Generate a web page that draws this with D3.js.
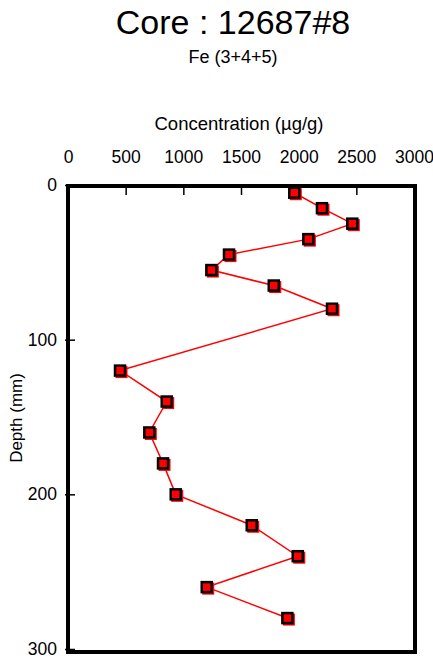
<!DOCTYPE html>
<html>
<head>
<meta charset="utf-8">
<script src="https://cdn.jsdelivr.net/npm/d3@7"></script>
<style>
  html, body { margin: 0; padding: 0; background: #fff; }
  svg { display: block; font-family: "Liberation Sans", Arial, sans-serif; }
</style>
</head>
<body>
<svg id="chart" width="433" height="659"></svg>
<script>
// ---- data ----
const depths = [5, 15, 25, 35, 45, 55, 65, 80, 120, 140, 160, 180, 200, 220, 240, 260, 280];
const concentrations = [1962, 2202, 2465, 2084, 1396, 1243, 1784, 2289, 451, 856, 705, 824, 934, 1593, 1992, 1203, 1902];
const xTicks = [0, 500, 1000, 1500, 2000, 2500, 3000];
const yTicks = [0, 100, 200, 300];
const titleText = "Core : 12687#8";
const subtitleText = "Fe (3+4+5)";
const xLabel = "Concentration (µg/g)";
const yLabel = "Depth (mm)";

(function () {
const svg = d3.select("#chart");
const pl = 68, pr = 414, pt = 185, pb = 649;

const x = d3.scaleLinear().domain([0, 3000]).range([pl, pr]);
const y = d3.scaleLinear().domain([0, 300]).range([pt, pb]);

// titles
svg.append("text").attr("x", 233).attr("y", 34).attr("text-anchor", "middle")
  .attr("font-size", 34).attr("fill", "#000").text(titleText);
svg.append("text").attr("x", 233).attr("y", 63).attr("text-anchor", "middle")
  .attr("font-size", 18).attr("fill", "#000").text(subtitleText);
svg.append("text").attr("x", 239).attr("y", 130).attr("text-anchor", "middle")
  .attr("font-size", 18.5).attr("fill", "#000").text(xLabel);
svg.append("text").attr("transform", "translate(22,418) rotate(-90)").attr("text-anchor", "middle")
  .attr("font-size", 17).attr("fill", "#000").text(yLabel);

// top axis: ticks inward, labels above
const xAxis = d3.axisTop(x).tickValues(xTicks).tickSize(-10).tickPadding(0).tickFormat(d3.format("d"));
const gx = svg.append("g").attr("transform", `translate(0,${pt})`).call(xAxis);
gx.select(".domain").remove();
gx.selectAll(".tick line").attr("stroke", "#000").attr("stroke-width", 1.5);
gx.selectAll(".tick text").attr("font-size", 17.5).attr("font-family", "Liberation Sans, Arial, sans-serif")
  .attr("fill", "#000").attr("y", -22).attr("dy", 0);

// left axis: ticks crossing frame
const yAxis = d3.axisLeft(y).tickValues(yTicks).tickSize(3).tickPadding(8).tickFormat(d3.format("d"));
const gy = svg.append("g").attr("transform", `translate(${pl},0)`).call(yAxis);
gy.select(".domain").remove();
gy.selectAll(".tick line").attr("x1", 7).attr("x2", -3).attr("stroke", "#000").attr("stroke-width", 1.5);
gy.selectAll(".tick text").attr("font-size", 17.5).attr("font-family", "Liberation Sans, Arial, sans-serif")
  .attr("fill", "#000");

// frame
svg.append("rect").attr("x", pl).attr("y", pt + 1).attr("width", pr - pl + 1).attr("height", pb - pt + 2)
  .attr("fill", "none").attr("stroke", "#000").attr("stroke-width", 4);

// data
const data = depths.map((d, i) => ({ depth: d, conc: concentrations[i] }));
const line = d3.line().x(d => x(d.conc)).y(d => y(d.depth));
svg.append("path").datum(data).attr("d", line).attr("fill", "none")
  .attr("stroke", "#ff0000").attr("stroke-width", 1.5);

const s = 10;
svg.append("g").selectAll("rect.shadow").data(data).join("rect").attr("class", "shadow")
  .attr("x", d => x(d.conc) - s / 2 + 1.5).attr("y", d => y(d.depth) - s / 2 + 1.5)
  .attr("width", s).attr("height", s).attr("fill", "#ff0000").attr("stroke", "#ff0000").attr("stroke-width", 2);
svg.append("g").selectAll("rect.mk").data(data).join("rect").attr("class", "mk")
  .attr("x", d => x(d.conc) - s / 2).attr("y", d => y(d.depth) - s / 2)
  .attr("width", s).attr("height", s).attr("fill", "#ff0000").attr("stroke", "#000").attr("stroke-width", 2.5);
})();
</script>
</body>
</html>
